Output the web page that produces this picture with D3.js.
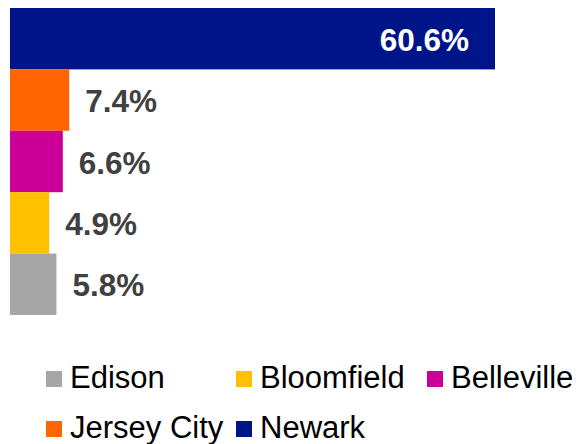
<!DOCTYPE html>
<html lang="en">
<head>
    <meta charset="UTF-8">
    <title>Share by City</title>
    <script src="https://cdn.jsdelivr.net/npm/d3@7"></script>
    <style>
        body { margin: 0; background: #fff; }
        text { font-family: Arial, "Liberation Sans", sans-serif; }
    </style>
</head>
<body>
<script>
    var w = 582;
    var h = 444;

    // bars from top to bottom
    var cities = ["Newark", "Jersey City", "Belleville", "Bloomfield", "Edison"];
    var shares = [60.6, 7.4, 6.6, 4.9, 5.8];
    var colors = ["#00148A", "#FF6600", "#CC0099", "#FFC000", "#A6A6A6"];

    // legend order (two rows)
    var legendOrder = ["Edison", "Bloomfield", "Belleville", "Jersey City", "Newark"];

    var data = cities.map(function (c, i) {
        return {city: c, value: shares[i], color: colors[i]};
    });

    var svg = d3.select("body")
        .append("svg")
        .attr("width", w)
        .attr("height", h);

    var x = d3.scaleLinear()
        .domain([0, 60.6])
        .range([10, 495]);

    var y = d3.scaleBand()
        .domain(cities)
        .range([8, 315])
        .padding(0);

    var color = d3.scaleOrdinal()
        .domain(cities)
        .range(colors);

    svg.selectAll("rect.bar")
        .data(data)
        .enter()
        .append("rect")
        .attr("class", "bar")
        .attr("x", x(0))
        .attr("y", function (d) { return y(d.city); })
        .attr("width", function (d) { return x(d.value) - x(0); })
        .attr("height", y.bandwidth())
        .attr("fill", function (d) { return d.color; });

    svg.selectAll("text.label")
        .data(data)
        .enter()
        .append("text")
        .attr("class", "label")
        .text(function (d) { return d.value.toFixed(1) + "%"; })
        .attr("x", function (d, i) {
            return i === 0 ? x(d.value) - 26 : x(d.value) + 16;
        })
        .attr("y", function (d) { return y(d.city) + y.bandwidth() / 2 + 12; })
        .attr("text-anchor", function (d, i) { return i === 0 ? "end" : "start"; })
        .attr("font-size", 31.5)
        .attr("font-weight", "bold")
        .attr("fill", function (d, i) { return i === 0 ? "#fff" : "#404040"; });

    // legend
    var legendX = [46, 236, 427, 46, 236];
    var legendY = [388, 388, 388, 438, 438];

    var legend = svg.selectAll("g.legend")
        .data(legendOrder)
        .enter()
        .append("g")
        .attr("class", "legend")
        .attr("transform", function (d, i) {
            return "translate(" + legendX[i] + "," + legendY[i] + ")";
        });

    legend.append("rect")
        .attr("x", 0)
        .attr("y", -17)
        .attr("width", 16)
        .attr("height", 16)
        .attr("fill", function (d) { return color(d); });

    legend.append("text")
        .attr("x", 24)
        .attr("y", 0)
        .attr("font-size", 31)
        .attr("fill", "#000")
        .text(function (d) { return d; });
</script>
</body>
</html>
